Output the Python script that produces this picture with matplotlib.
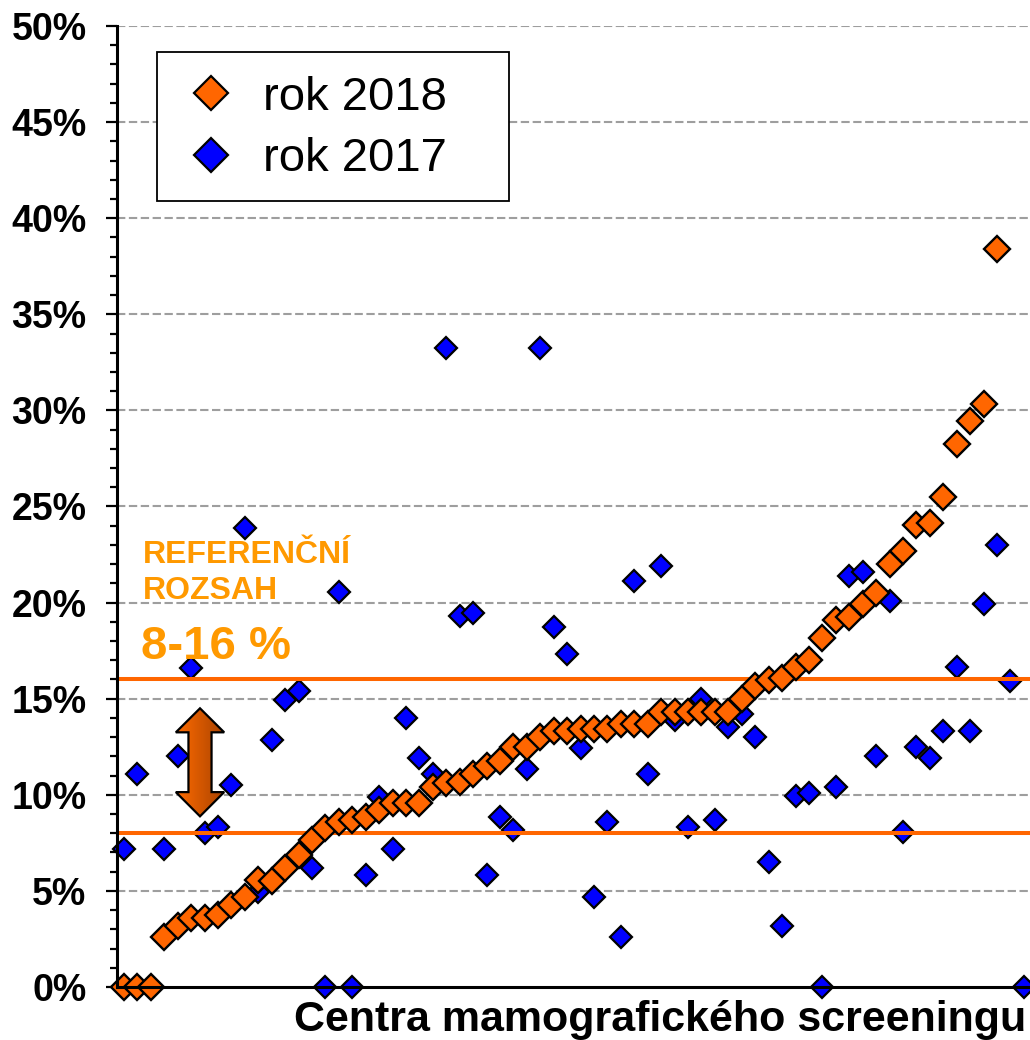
import numpy as np
import matplotlib
matplotlib.use("Agg")
import matplotlib.pyplot as plt
from matplotlib.lines import Line2D
from matplotlib.patches import Polygon, Rectangle

plt.rcParams['font.family'] = ['Liberation Sans', 'DejaVu Sans']

# ---- data (percent) ----
rok_2018 = [0, 0, 0, 2.62, 3.17, 3.6, 3.57, 3.74, 4.26, 4.69,
            5.56, 5.53, 6.2, 6.86, 7.64, 8.28, 8.59, 8.71, 8.85, 9.2,
            9.55, 9.55, 9.55, 10.41, 10.59, 10.67, 11.1, 11.49, 11.76, 12.49,
            12.49, 13.01, 13.32, 13.32, 13.44, 13.44, 13.44, 13.7, 13.7, 13.7,
            14.3, 14.3, 14.3, 14.3, 14.3, 14.3, 14.97, 15.66, 15.96, 16.06,
            16.65, 17.03, 18.16, 19.11, 19.25, 19.94, 20.51, 22.02, 22.71, 24.06,
            24.13, 25.52, 28.27, 29.47, 30.35, 38.41]
rok_2017 = [7.17, 11.07, 0, 7.17, 12.04, 16.6, 7.99, 8.33, 10.53, 23.86,
            4.95, 12.87, 14.95, 15.38, 6.2, 0, 20.53, 0, 5.82, 9.89,
            7.17, 14.0, 11.94, 11.1, 33.26, 19.28, 19.44, 5.82, 8.85, 8.16,
            11.36, 33.26, 18.71, 17.3, 12.46, 4.69, 8.59, 2.62, 21.1, 11.07,
            21.93, 13.9, 8.33, 15.0, 8.71, 13.53, 14.2, 13.0, 6.51, 3.19,
            9.96, 10.1, 0, 10.38, 21.36, 21.6, 12.04, 20.06, 8.04, 12.47,
            11.92, 13.3, 16.63, 13.3, 19.94, 23.0, 15.94, 0]
ref_low, ref_high = 8, 16
y_ticks = [0, 5, 10, 15, 20, 25, 30, 35, 40, 45, 50]
y_tick_labels = [f"{v}%" for v in y_ticks]
series_labels = ["rok 2018", "rok 2017"]
x_label = "Centra mamografického screeningu"

ORANGE = "#FF6600"
TEXT_ORANGE = "#FF9900"
BLUE = "#0000FF"

W, H = 1030, 1040
fig = plt.figure(figsize=(W / 100, H / 100), dpi=100)
ax_l, ax_r, ax_b, ax_t = 117, 1030, 987, 26
ax = fig.add_axes([ax_l / W, 1 - ax_b / H, (ax_r - ax_l) / W, (ax_b - ax_t) / H])

x18 = np.arange(len(rok_2018))
x17 = np.arange(len(rok_2017))

# grid
for v in y_ticks[1:]:
    ax.axhline(v, color="#9E9E9E", lw=1.5, ls=(0, (4, 1.7)), zorder=1)

ax.plot(x17, rok_2017, ls="none", marker="D", ms=10.8, mfc=BLUE, mec="black",
        mew=1.6, zorder=3, clip_on=False)
ax.axhline(ref_high, color=ORANGE, lw=2.9, zorder=4)
ax.axhline(ref_low, color=ORANGE, lw=2.9, zorder=4)
ax.plot(x18, rok_2018, ls="none", marker="D", ms=13.5, mfc=ORANGE, mec="black",
        mew=1.7, zorder=5, clip_on=False)

# axes styling
for s in ["top", "right"]:
    ax.spines[s].set_visible(False)
for s in ["left", "bottom"]:
    ax.spines[s].set_linewidth(2.2)
    ax.spines[s].set_zorder(6)
ax.set_xticks([])
ax.set_yticks(y_ticks)
ax.set_yticks(np.arange(0, 51, 1), minor=True)
ax.set_yticklabels(y_tick_labels, fontsize=27, fontweight="bold")
ax.tick_params(axis="y", which="major", length=8, width=1.6, pad=14, direction="out")
ax.tick_params(axis="y", which="minor", length=5, width=1.6, direction="out")

# double arrow with gradient (annotation, in data coords)
cx = 5.66
hw, sw = 1.8, 0.86
y_top, y_hb_top, y_hb_bot, y_bot = 14.5, 13.25, 10.14, 8.88
arrow_pts = [(cx, y_top), (cx + hw, y_hb_top), (cx + sw, y_hb_top),
             (cx + sw, y_hb_bot), (cx + hw, y_hb_bot), (cx, y_bot),
             (cx - hw, y_hb_bot), (cx - sw, y_hb_bot), (cx - sw, y_hb_top),
             (cx - hw, y_hb_top)]
poly = Polygon(arrow_pts, closed=True, facecolor="none", edgecolor="black",
               lw=1.6, zorder=7, joinstyle="miter")
ax.add_patch(poly)
grad = np.linspace(0, 1, 256).reshape(1, -1)
c0 = np.array([1.0, 0.42, 0.0]); c1 = np.array([0.66, 0.26, 0.0])
img = c0[None, None, :] * (1 - grad[..., None]) + c1[None, None, :] * grad[..., None]
im = ax.imshow(img, extent=[cx - hw, cx + hw, y_bot, y_top], aspect="auto",
               zorder=6.5, interpolation="bilinear")
im.set_clip_path(poly)
ax.set_xlim(-0.52, 67.46)
ax.set_ylim(0, 50)

# reference range texts
fig.text(143 / W, 1 - 563 / H, "REFERENČNÍ", color=TEXT_ORANGE, fontsize=23,
         fontweight="bold", va="baseline", ha="left")
fig.text(143 / W, 1 - 599 / H, "ROZSAH", color=TEXT_ORANGE, fontsize=23,
         fontweight="bold", va="baseline", ha="left")
fig.text(141 / W, 1 - 659 / H, "8-16 %", color=TEXT_ORANGE, fontsize=34,
         fontweight="bold", va="baseline", ha="left")

# x label
fig.text(1026 / W, 1 - 1031 / H, x_label, fontsize=31, fontweight="bold",
         va="baseline", ha="right")

# legend with manual frame
frame = Rectangle((157 / W, 1 - 201 / H), (509 - 157) / W, (201 - 52) / H,
                  transform=fig.transFigure, facecolor="white", edgecolor="black",
                  lw=1.3, zorder=8)
fig.patches.append(frame)
handles = [Line2D([], [], ls="none", marker="D", ms=17.5, mfc=ORANGE, mec="black", mew=1.6),
           Line2D([], [], ls="none", marker="D", ms=17.5, mfc=BLUE, mec="black", mew=1.6)]
leg = fig.legend(handles, series_labels, loc="upper left",
                 bbox_to_anchor=(178 / W, 1 - 76 / H), bbox_transform=fig.transFigure,
                 frameon=False, fontsize=34, borderpad=0, borderaxespad=0,
                 handlelength=1.4, handletextpad=0.40, labelspacing=0.37)
leg.set_zorder(9)

fig.savefig("out.png", dpi=100)
